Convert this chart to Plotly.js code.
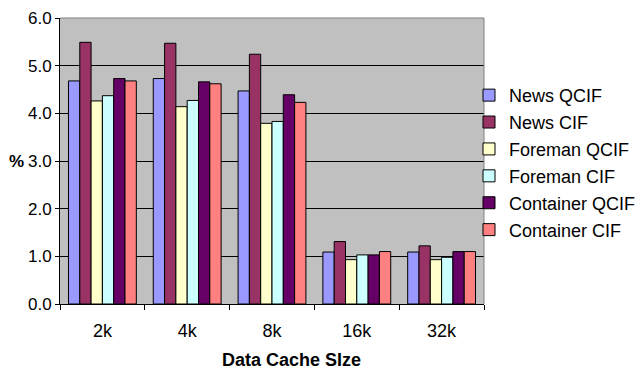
<!DOCTYPE html>
<html>
<head>
<meta charset="utf-8">
<script src="https://cdn.plot.ly/plotly-3.0.1.min.js"></script>
<style>
  html, body { margin: 0; padding: 0; background: #fff; }
  #chart { width: 640px; height: 369px; }
</style>
</head>
<body>
<div id="chart"></div>
<script>
// Data cache sizes on the category axis
const cacheSizes = ['2k', '4k', '8k', '16k', '32k'];

// Miss rate (%) per video sequence and resolution
const newsQcif      = [4.68, 4.73, 4.47, 1.09, 1.09];
const newsCif       = [5.49, 5.47, 5.24, 1.31, 1.22];
const foremanQcif   = [4.26, 4.14, 3.79, 0.93, 0.93];
const foremanCif    = [4.37, 4.27, 3.83, 1.03, 0.98];
const containerQcif = [4.73, 4.66, 4.39, 1.03, 1.10];
const containerCif  = [4.68, 4.62, 4.23, 1.10, 1.10];

const seriesNames  = ['News QCIF', 'News CIF', 'Foreman QCIF', 'Foreman CIF', 'Container QCIF', 'Container CIF'];
const seriesValues = [newsQcif, newsCif, foremanQcif, foremanCif, containerQcif, containerCif];
const seriesColors = ['#9999FF', '#993366', '#FFFFCC', '#CCFFFF', '#660066', '#FF8080'];

const font = 'Liberation Sans, Arial, sans-serif';

const traces = seriesNames.map((name, i) => ({
  type: 'bar',
  name: name,
  x: cacheSizes,
  y: seriesValues[i],
  legendgroup: 'g' + i,
  marker: { color: seriesColors[i], line: { color: '#000', width: 1 } }
}));

const layout = {
  width: 640,
  height: 369,
  margin: { l: 60, r: 156, t: 18, b: 65, autoexpand: false },
  paper_bgcolor: '#ffffff',
  plot_bgcolor: '#C0C0C0',
  barmode: 'group',
  bargap: 0.2,
  bargroupgap: 0,
  font: { family: font, size: 16, color: '#000' },
  xaxis: {
    type: 'category',
    showline: true,
    linecolor: '#000',
    linewidth: 1,
    ticks: 'outside',
    tickson: 'boundaries',
    ticklen: 5,
    tickcolor: '#000',
    ticklabelstandoff: 10,
    tickfont: { family: font, size: 18 },
    showgrid: false,
    zeroline: false,
    automargin: false
  },
  yaxis: {
    range: [0, 6],
    dtick: 1,
    tickformat: '.1f',
    showline: true,
    linecolor: '#000',
    linewidth: 1,
    ticks: 'outside',
    ticklen: 4,
    tickcolor: '#000',
    tickfont: { family: font, size: 17 },
    showgrid: true,
    gridcolor: '#000',
    gridwidth: 1,
    zeroline: false,
    automargin: false
  },
  legend: {
    x: 1 - 15 / 424,
    xanchor: 'left',
    y: 0.495,
    yanchor: 'middle',
    bgcolor: 'rgba(0,0,0,0)',
    font: { family: font, size: 18 },
    tracegroupgap: 0.5,
    itemwidth: 30
  },
  shapes: [
    { type: 'line', xref: 'paper', yref: 'paper', x0: 0, x1: 1, y0: 1, y1: 1,
      line: { color: '#808080', width: 1 }, layer: 'above' },
    { type: 'line', xref: 'paper', yref: 'paper', x0: 1, x1: 1, y0: 0, y1: 1,
      line: { color: '#808080', width: 1 }, layer: 'above' }
  ],
  annotations: [
    { text: '<b>Data Cache SIze</b>', xref: 'paper', yref: 'paper',
      x: (291 - 60) / 424, y: -(360 - 304) / 286, xanchor: 'center', yanchor: 'middle',
      showarrow: false, font: { family: font, size: 18 } },
    { text: '<b>%</b>', xref: 'paper', yref: 'paper',
      x: -(60 - 26) / 424, y: 0.5, xanchor: 'right', yanchor: 'middle', showarrow: false,
      font: { family: font, size: 17 } }
  ]
};

Plotly.newPlot('chart', traces, layout, { displayModeBar: false, staticPlot: true });
</script>
</body>
</html>
